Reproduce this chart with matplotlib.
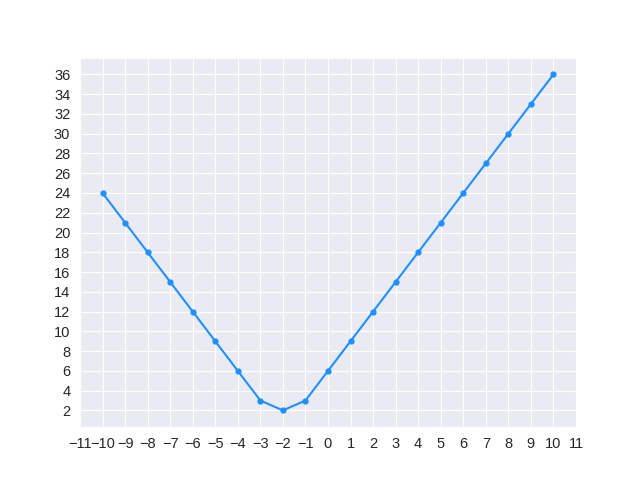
import matplotlib
matplotlib.use("Agg")
import matplotlib.pyplot as plt
import seaborn as sns

# Daten
x_values = [-10, -9, -8, -7, -6, -5, -4, -3, -2, -1, 0, 1, 2, 3, 4, 5, 6, 7, 8, 9, 10]
y_values = [24, 21, 18, 15, 12, 9, 6, 3, 2, 3, 6, 9, 12, 15, 18, 21, 24, 27, 30, 33, 36]
x_ticks = list(range(-11, 12))
y_ticks = list(range(2, 37, 2))

# Stil setzen, danach Schriftfamilie
sns.set_style("darkgrid")
plt.rcParams['font.family'] = ['Liberation Sans', 'DejaVu Sans']

fig, ax = plt.subplots(figsize=(6.4, 4.8), dpi=100)
ax.plot(x_values, y_values, color="dodgerblue", marker="o", markersize=3.5, linewidth=1.5)
ax.set_xticks(x_ticks)
ax.set_yticks(y_ticks)
ax.tick_params(labelsize=10.5, colors="#262626")

plt.savefig("out.png", dpi=100)
